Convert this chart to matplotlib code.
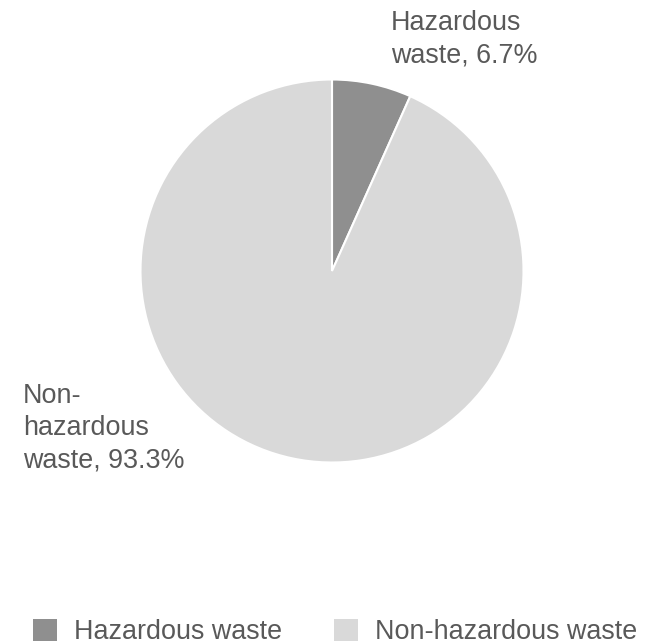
import matplotlib.pyplot as plt
from matplotlib.patches import Patch

plt.rcParams['font.family'] = ['Liberation Sans', 'DejaVu Sans']

# waste breakdown (%)
categories = ['Hazardous waste', 'Non-hazardous waste']
shares = [6.7, 93.3]
colors = ['#8f8f8f', '#d9d9d9']
text_color = '#595959'

W, H = 650, 644
fig = plt.figure(figsize=(W / 100, H / 100), dpi=100)

# pie centred at (332, 271) px with radius 191.5 px
cx, cy, r = 332, 271, 191.5
ax = fig.add_axes([(cx - r) / W, (H - cy - r) / H, 2 * r / W, 2 * r / H])
ax.pie(shares, colors=colors, startangle=90, counterclock=False, radius=1,
       wedgeprops=dict(edgecolor='white', linewidth=1.5))
ax.set_xlim(-1, 1)
ax.set_ylim(-1, 1)
ax.set_aspect('equal')
ax.axis('off')

fs = 19.4
fig.text(391 / W, 1 - 10 / H, 'Hazardous\nwaste, %.1f%%' % shares[0],
         ha='left', va='top', fontsize=fs, color=text_color, linespacing=1.3)
fig.text(23 / W, 1 - 383 / H, 'Non-\nhazardous\nwaste, %.1f%%' % shares[1],
         ha='left', va='top', fontsize=fs, color=text_color, linespacing=1.32)

handles = [Patch(facecolor=c, edgecolor='none') for c in colors]
fig.legend(handles, categories, loc='upper left', bbox_to_anchor=(33 / W, 1 - 619 / H),
           ncol=2, frameon=False, fontsize=fs, labelcolor=text_color,
           handlelength=0.9, handleheight=0.86, handletextpad=0.63,
           columnspacing=1.9, borderpad=0, borderaxespad=0)

fig.savefig('out.png', dpi=100)
